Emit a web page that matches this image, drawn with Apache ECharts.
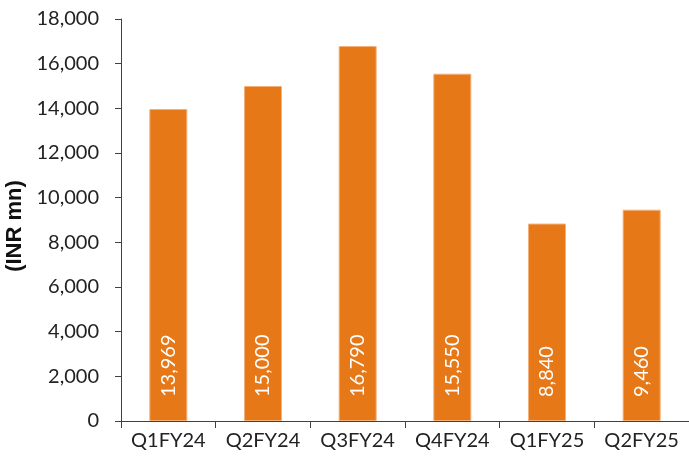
<!DOCTYPE html>
<html>
<head>
<meta charset="utf-8">
<script src="https://cdn.jsdelivr.net/npm/echarts@6/dist/echarts.min.js"></script>
<style>
html, body { margin: 0; padding: 0; background: #fff; }
#chart { width: 689px; height: 464px; }
</style>
</head>
<body>
<div id="chart"></div>
<script>
const quarters = ['Q1FY24', 'Q2FY24', 'Q3FY24', 'Q4FY24', 'Q1FY25', 'Q2FY25'];
const revenue = [13969, 15000, 16790, 15550, 8840, 9460];

const fmt = v => v.toLocaleString('en-US');
const font = 'Lato';

const chart = echarts.init(document.getElementById('chart'));
chart.setOption({
	animation: false,
	grid: { left: 121, right: 0, top: 19, bottom: 43, outerBoundsMode: 'none' },
	xAxis: {
		type: 'category',
		data: quarters,
		axisLine: { lineStyle: { color: '#404040', width: 1 } },
		axisTick: { show: true, length: 7, lineStyle: { color: '#404040' } },
		axisLabel: { color: '#222', fontSize: 20, fontFamily: font, margin: 10, interval: 0 }
	},
	yAxis: {
		type: 'value',
		min: 0,
		max: 18000,
		interval: 2000,
		name: '(INR mn)',
		nameLocation: 'middle',
		nameRotate: 90,
		nameGap: 91,
		nameTextStyle: { color: '#111', fontSize: 22, fontWeight: 'bold', fontFamily: 'Liberation Sans', padding: [0, 12, 0, 0] },
		axisLine: { show: true, lineStyle: { color: '#404040', width: 1 } },
		axisTick: { show: true, length: 6, lineStyle: { color: '#404040' } },
		splitLine: { show: false },
		axisLabel: { color: '#222', fontSize: 20, fontFamily: font, margin: 22, formatter: fmt }
	},
	series: [{
		type: 'bar',
		data: revenue,
		barWidth: 38,
		itemStyle: { color: '#E67817', borderColor: '#F3B07A', borderWidth: 1 },
		label: {
			show: true,
			position: 'insideBottom',
			rotate: 90,
			align: 'left',
			verticalAlign: 'middle',
			distance: 24,
			color: '#fff',
			fontSize: 20,
			fontFamily: font,
			formatter: p => fmt(p.value)
		}
	}]
});
</script>
</body>
</html>
